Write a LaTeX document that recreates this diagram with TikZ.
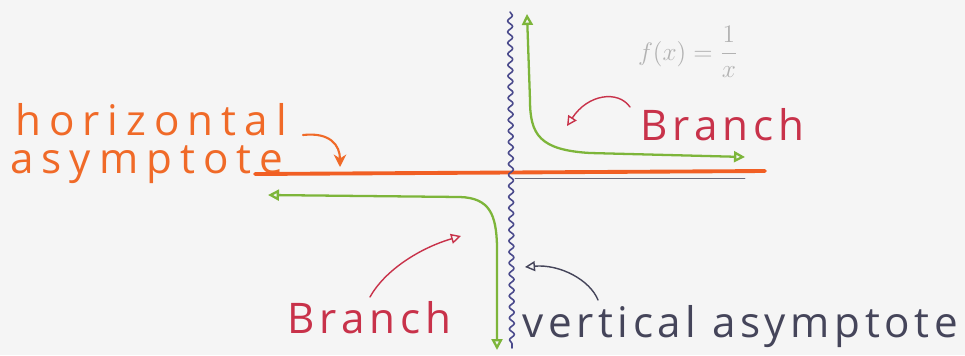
\documentclass[tikz,border=0pt]{standalone}
\usepackage{fontspec}
\usepackage{amsmath}
\usepackage{xcolor}
\usetikzlibrary{positioning,arrows.meta,decorations.pathmorphing}
\newfontfamily\hand{Open Sans}
\definecolor{pen-orange}{HTML}{F06A28}
\definecolor{pen-green}{HTML}{7DB53A}
\definecolor{pen-red}{HTML}{C8324A}
\definecolor{pen-blue}{HTML}{4A4A8C}
\definecolor{pen-grey}{HTML}{45455A}
\begin{document}
\begin{tikzpicture}[x=0.2mm, y=-0.2mm,
  line cap=round, line join=round,
  txt/.style={anchor=base west, inner sep=0pt, font=\hand\fontsize{24}{28}\selectfont\addfontfeatures{LetterSpace=#1}},
  txt/.default=10,
  br/.style={draw=pen-green, line width=1.3pt, {Triangle[open, length=2.2mm, width=2.2mm]}-{Triangle[open, length=2.2mm, width=2.2mm]}},
  ptr/.style={line width=0.8pt, -{Triangle[open, length=2mm, width=2mm]}}]
\useasboundingbox[fill=black!4] (0,0) rectangle (965,355);
% labels
\node[txt=19, text=pen-orange] (horiz) at (15,135) {horizontal};
\node[txt=19, text=pen-orange] (asym) at (10,173) {asymptote};
\node[txt=12, text=pen-red] (br1) at (640,140) {Branch};
\node[txt=12, text=pen-red] (br2) at (287,333) {Branch};
\node[txt=11, text=pen-grey] (vert) at (522,337) {vertical asymptote};
\node[text=black!30, font=\Large] (fx) at (688,52) {$f(x)=\dfrac{1}{x}$};
% asymptotes
\draw[pen-grey!80, line width=0.5pt] (515,178) -- (745,178);
\draw[pen-orange!90!red, line width=2.2pt] (255,174) -- (765,171);
\draw[pen-blue, line width=0.9pt, decorate,
  decoration={snake, segment length=2.2mm, amplitude=0.5mm}] (510,12) -- (512,348);
% branches
\draw[br] (527,14) -- (530,100) .. controls (530,135) and (540,150) .. (590,153) -- (745,157);
\draw[br] (268,195) -- (460,197) .. controls (490,198) and (496,215) .. (497,245) -- (497,350);
% pointers
\coordinate (h1) at (340,167);
\coordinate (u1) at (567,126);
\coordinate (l1) at (461,236);
\coordinate (v1) at (525,267);
\draw[pen-orange, line width=1.2pt, -{Stealth[length=2.5mm, width=2.5mm]}]
  ([shift={(288,0)}]horiz.base west) .. controls (330,132) and (340,145) .. (h1);
\draw[ptr, pen-red] ([shift={(-10,-33)}]br1.base west) .. controls (618,90) and (588,94) .. (u1);
\draw[ptr, pen-red] ([shift={(83,-36)}]br2.base west) .. controls (385,270) and (420,248) .. (l1);
\draw[ptr, pen-grey] ([shift={(76,-37)}]vert.base west) .. controls (590,280) and (560,264) .. (v1);
\end{tikzpicture}
\end{document}
